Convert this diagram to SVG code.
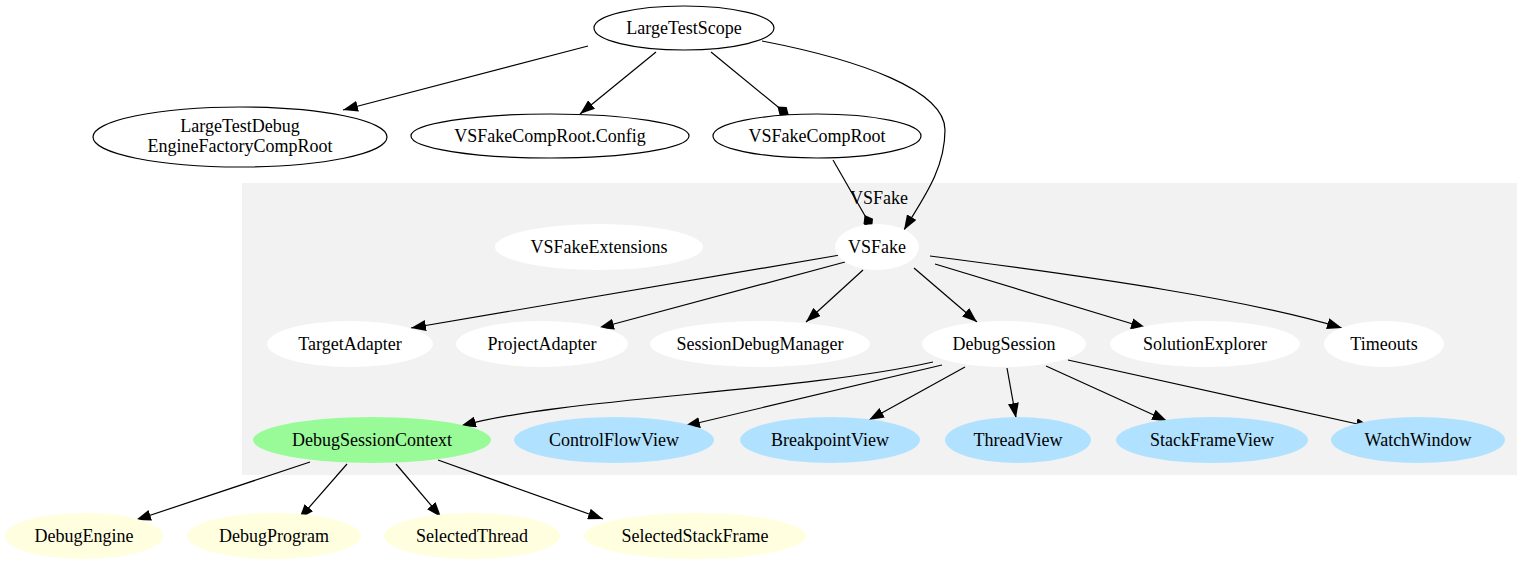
<svg xmlns="http://www.w3.org/2000/svg" width="1532" height="566" viewBox="0 0 1532 566">
<style>
text{font-family:'Liberation Serif','Times New Roman',serif;font-size:18px;text-anchor:middle;fill:#000}
.o{fill:#fff;stroke:#000;stroke-width:1.2}
.w{fill:#fff}
.g{fill:#98fb98}
.b{fill:#b0e2ff}
.y{fill:#ffffe0}
.e{fill:none;stroke:#000;stroke-width:1.2}
.a{marker-end:url(#arr)}
.d{marker-end:url(#dia)}
</style>
<defs>
<marker id="arr" viewBox="0 0 15 11" refX="15" refY="5.5" markerWidth="15" markerHeight="11" markerUnits="userSpaceOnUse" orient="auto"><path d="M0,0 L15,5.5 L0,11 z" fill="#000"/></marker>
<marker id="dia" viewBox="0 0 15 11" refX="15" refY="5.5" markerWidth="15" markerHeight="11" markerUnits="userSpaceOnUse" orient="auto"><path d="M0,5.5 L7.5,0 L15,5.5 L7.5,11 z" fill="#000"/></marker>
</defs>
<rect x="0" y="0" width="1532" height="566" fill="#fff"/>
<g id="cluster_VSFake">
<rect x="242" y="183" width="1275" height="292" fill="#f2f2f2"/>
<text x="879" y="204">VSFake</text>
</g>
<g id="edges">
<path class="e a" d="M588,46 L343,110"/>
<path class="e a" d="M656,52 L580,114"/>
<path class="e d" d="M711,52 L789,116"/>
<path class="e a" d="M762,41 C860,60 945,90 945,130 C945,170 922,200 904,230"/>
<path class="e d" d="M833,160 L872,228"/>
<path class="e a" d="M840,255 L411,328"/>
<path class="e a" d="M845,262 L599,328"/>
<path class="e a" d="M863,270 L806,322"/>
<path class="e a" d="M914,268 L977,322"/>
<path class="e a" d="M935,264 L1146,328"/>
<path class="e a" d="M930,256 C1100,278 1250,300 1342,328"/>
<path class="e a" d="M933,362 C800,392 560,398 461,426"/>
<path class="e a" d="M942,365 L685,426"/>
<path class="e a" d="M965,367 L869,420"/>
<path class="e a" d="M1007,368 L1016,418"/>
<path class="e a" d="M1046,366 L1167,421"/>
<path class="e a" d="M1068,360 L1371,427"/>
<path class="e a" d="M310,462 L136,520"/>
<path class="e a" d="M347,464 L299,519"/>
<path class="e a" d="M396,464 L441,517"/>
<path class="e a" d="M438,460 L603,519"/>
</g>
<g id="LargeTestScope"><ellipse class="o" cx="684" cy="28" rx="90" ry="22"/><text x="684" y="34">LargeTestScope</text></g>
<g id="LargeTestDebugEngineFactoryCompRoot"><ellipse class="o" cx="240" cy="137" rx="147" ry="30"/><text x="240" y="132">LargeTestDebug</text><text x="240" y="152">EngineFactoryCompRoot</text></g>
<g id="VSFakeCompRootConfig"><ellipse class="o" cx="550" cy="136" rx="139" ry="22"/><text x="550" y="142">VSFakeCompRoot.Config</text></g>
<g id="VSFakeCompRoot"><ellipse class="o" cx="817" cy="136" rx="104" ry="22"/><text x="817" y="142">VSFakeCompRoot</text></g>
<g id="VSFakeExtensions"><ellipse class="w" cx="599" cy="247" rx="104" ry="23"/><text x="599" y="253">VSFakeExtensions</text></g>
<g id="VSFake"><ellipse class="w" cx="877" cy="247" rx="42" ry="23"/><text x="877" y="253">VSFake</text></g>
<g id="TargetAdapter"><ellipse class="w" cx="350" cy="344" rx="83" ry="23"/><text x="350" y="350">TargetAdapter</text></g>
<g id="ProjectAdapter"><ellipse class="w" cx="542" cy="344" rx="86" ry="23"/><text x="542" y="350">ProjectAdapter</text></g>
<g id="SessionDebugManager"><ellipse class="w" cx="760" cy="344" rx="110" ry="23"/><text x="760" y="350">SessionDebugManager</text></g>
<g id="DebugSession"><ellipse class="w" cx="1004" cy="344" rx="82" ry="23"/><text x="1004" y="350">DebugSession</text></g>
<g id="SolutionExplorer"><ellipse class="w" cx="1205" cy="344" rx="95" ry="23"/><text x="1205" y="350">SolutionExplorer</text></g>
<g id="Timeouts"><ellipse class="w" cx="1384" cy="344" rx="60" ry="23"/><text x="1384" y="350">Timeouts</text></g>
<g id="DebugSessionContext"><ellipse class="g" cx="372" cy="440" rx="119" ry="23"/><text x="372" y="446">DebugSessionContext</text></g>
<g id="ControlFlowView"><ellipse class="b" cx="614" cy="440" rx="100" ry="23"/><text x="614" y="446">ControlFlowView</text></g>
<g id="BreakpointView"><ellipse class="b" cx="830" cy="440" rx="90" ry="23"/><text x="830" y="446">BreakpointView</text></g>
<g id="ThreadView"><ellipse class="b" cx="1018" cy="440" rx="73" ry="23"/><text x="1018" y="446">ThreadView</text></g>
<g id="StackFrameView"><ellipse class="b" cx="1212" cy="440" rx="96" ry="23"/><text x="1212" y="446">StackFrameView</text></g>
<g id="WatchWindow"><ellipse class="b" cx="1418" cy="440" rx="87" ry="23"/><text x="1418" y="446">WatchWindow</text></g>
<g id="DebugEngine"><ellipse class="y" cx="84" cy="536" rx="79" ry="23"/><text x="84" y="542">DebugEngine</text></g>
<g id="DebugProgram"><ellipse class="y" cx="274" cy="536" rx="87" ry="23"/><text x="274" y="542">DebugProgram</text></g>
<g id="SelectedThread"><ellipse class="y" cx="472" cy="536" rx="88" ry="23"/><text x="472" y="542">SelectedThread</text></g>
<g id="SelectedStackFrame"><ellipse class="y" cx="695" cy="536" rx="111" ry="23"/><text x="695" y="542">SelectedStackFrame</text></g>
</svg>
